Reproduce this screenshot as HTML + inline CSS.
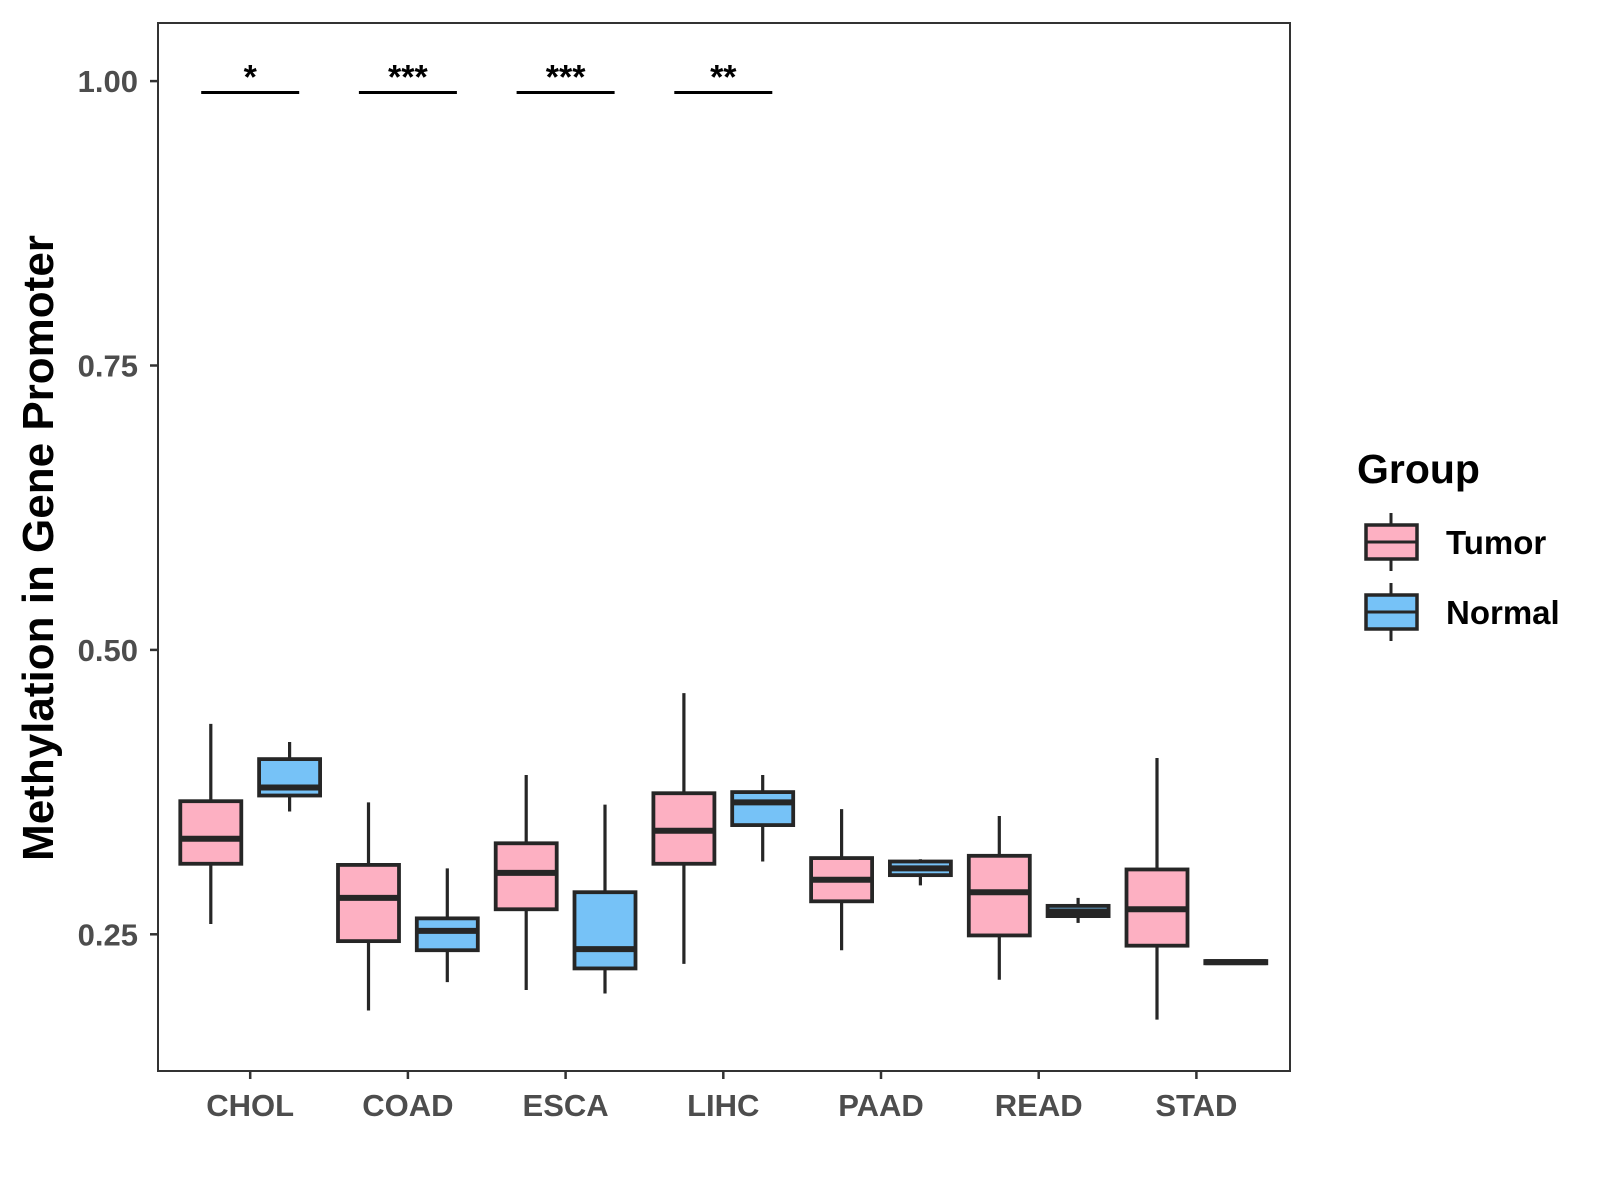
<!DOCTYPE html>
<html><head><meta charset="utf-8"><style>
html,body{margin:0;padding:0;background:#fff;}
svg{display:block;font-family:"Liberation Sans",sans-serif;}
</style></head><body>
<svg id="chart" width="1600" height="1200" viewBox="0 0 1600 1200" xmlns="http://www.w3.org/2000/svg">
<rect width="1600" height="1200" fill="#fff"/>
<g id="plot"></g>
<text transform="translate(53,548) rotate(-90)" text-anchor="middle" font-size="44" font-weight="bold" fill="#000">Methylation in Gene Promoter</text>
<g>
<text x="1357" y="483" font-size="41" font-weight="bold" fill="#000">Group</text>
<g>
<line x1="1391" y1="513" x2="1391" y2="571" stroke="#262626" stroke-width="3"/>
<rect x="1366" y="525" width="51" height="34" fill="#FDB0C2" stroke="#262626" stroke-width="3.5"/>
<line x1="1366" y1="542" x2="1417" y2="542" stroke="#262626" stroke-width="3"/>
<text x="1446" y="554" font-size="33" font-weight="bold" fill="#000">Tumor</text>
</g>
<g>
<line x1="1391" y1="583" x2="1391" y2="641" stroke="#262626" stroke-width="3"/>
<rect x="1366" y="595" width="51" height="34" fill="#76C2F7" stroke="#262626" stroke-width="3.5"/>
<line x1="1366" y1="612" x2="1417" y2="612" stroke="#262626" stroke-width="3"/>
<text x="1446" y="624" font-size="33" font-weight="bold" fill="#000">Normal</text>
</g>
</g>
</svg>
<script>
const categories = ["CHOL","COAD","ESCA","LIHC","PAAD","READ","STAD"];
// [whiskerLow, Q1, median, Q3, whiskerHigh]
const tumorStats = [
 [0.259,0.312,0.334,0.367,0.435],
 [0.183,0.244,0.282,0.311,0.366],
 [0.201,0.272,0.304,0.330,0.390],
 [0.224,0.312,0.341,0.374,0.462],
 [0.236,0.279,0.298,0.317,0.360],
 [0.210,0.249,0.287,0.319,0.354],
 [0.175,0.240,0.272,0.307,0.405]
];
const normalStats = [
 [0.358,0.372,0.379,0.404,0.419],
 [0.208,0.236,0.253,0.264,0.308],
 [0.198,0.220,0.237,0.287,0.364],
 [0.314,0.346,0.366,0.375,0.390],
 [0.293,0.302,0.308,0.314,0.316],
 [0.260,0.266,0.270,0.275,0.282],
 [0.2245,0.2245,0.2255,0.2265,0.2265]
];
const yTicks = [0.25,0.50,0.75,1.00];
const yTickLabels = ["0.25","0.50","0.75","1.00"];
const sigLabels = ["*","***","***","**",null,null,null];
const sigLevel = 0.990;

const NS="http://www.w3.org/2000/svg";
const L=158,R=1290,T=23,B=1071;
const x0=250.2, step=157.7, dodge=39.4, bw=61;
function xScale(i){return x0+i*step;}
function yScale(v){return 81.1+(1-v)*1137.6;}
const g=document.getElementById('plot');
function el(tag,attrs,parent){const e=document.createElementNS(NS,tag);for(const k in attrs)e.setAttribute(k,attrs[k]);(parent||g).appendChild(e);return e;}

const panel=el('rect',{x:L,y:T,width:R-L,height:B-T,fill:'#fff',stroke:'#333',"stroke-width":2});



yTicks.forEach((v,i)=>{
  const y=yScale(v);
  const t=el('line',{x1:L-8,y1:y,x2:L,y2:y,stroke:'#333',"stroke-width":2.5});
  
  
  const tx=el('text',{x:L-20,y:y+11,"text-anchor":"end","font-size":31,"font-weight":"bold",fill:'#4D4D4D'});
  tx.textContent=yTickLabels[i];
  
  
});
categories.forEach((c,i)=>{
  const x=xScale(i);
  const t=el('line',{x1:x,y1:B,x2:x,y2:B+8,stroke:'#333',"stroke-width":2.5});
  
  
  const tx=el('text',{x:x,y:B+45,"text-anchor":"middle","font-size":31,"font-weight":"bold",fill:'#4D4D4D'});
  tx.textContent=c;
  
  
});
function drawBox(s,cx,fill,name){
  const grp=el('g',{});
  
  
  el('line',{x1:cx,y1:yScale(s[4]),x2:cx,y2:yScale(s[0]),stroke:'#262626',"stroke-width":3.2},grp);
  const y3=yScale(s[3]),y1=yScale(s[1]);
  el('rect',{x:cx-bw/2,y:y3,width:bw,height:Math.max(y1-y3,0.5),fill:fill,stroke:'#262626',"stroke-width":3.8},grp);
  el('line',{x1:cx-bw/2,y1:yScale(s[2]),x2:cx+bw/2,y2:yScale(s[2]),stroke:'#262626',"stroke-width":6},grp);
}
categories.forEach((c,i)=>{
  drawBox(tumorStats[i],xScale(i)-dodge,'#FDB0C2','box-tumor-'+c.toLowerCase());
  drawBox(normalStats[i],xScale(i)+dodge,'#76C2F7','box-normal-'+c.toLowerCase());
  if(sigLabels[i]){
    const y=yScale(sigLevel);
    const ln=el('line',{x1:xScale(i)-49,y1:y,x2:xScale(i)+49,y2:y,stroke:'#000',"stroke-width":3});
    
    
    const tx=el('text',{x:xScale(i),y:y-4,"text-anchor":"middle","font-size":34,"font-weight":"bold",fill:'#000'});
    tx.textContent=sigLabels[i];
    
    
  }
});
</script>
</body></html>
